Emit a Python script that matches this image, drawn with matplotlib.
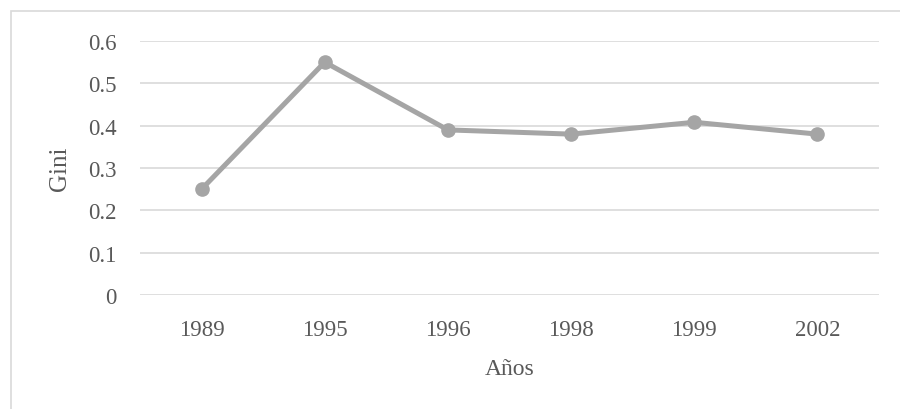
import matplotlib
matplotlib.use("Agg")
import matplotlib.pyplot as plt
from matplotlib.patches import Rectangle

years = ["1989", "1995", "1996", "1998", "1999", "2002"]
gini = [0.25, 0.55, 0.39, 0.38, 0.408, 0.38]
yticks = [0, 0.1, 0.2, 0.3, 0.4, 0.5, 0.6]
ytick_labels = ["0", "0.1", "0.2", "0.3", "0.4", "0.5", "0.6"]

plt.rcParams['font.family'] = ['Liberation Serif', 'DejaVu Serif']
TXT = "#595959"

fig = plt.figure(figsize=(9, 4.1), dpi=100)
ax = fig.add_axes([140/900, 1-296/410, (879-140)/900, (296-42)/410])

x = list(range(len(years)))
ax.plot(x, gini, color="#A5A5A5", linewidth=3.6, marker="o", markersize=9.5,
        solid_capstyle="round", zorder=3)

ax.set_xlim(-0.5, len(years)-0.5)
ax.set_ylim(0, 0.6)
ax.set_yticks(yticks)
ax.set_yticklabels(ytick_labels)
ax.set_xticks(x)
ax.set_xticklabels(years)
ax.grid(axis="y", color="#D9D9D9", linewidth=1.2, zorder=0)
for s in ax.spines.values():
    s.set_visible(False)
ax.tick_params(axis="both", length=0, labelsize=16.5, colors=TXT)
ax.tick_params(axis="y", pad=17)
ax.tick_params(axis="x", pad=17)
ax.set_ylabel("Gini", fontsize=18, color=TXT, labelpad=12)
ax.set_xlabel("Años", fontsize=17, color=TXT, labelpad=13)

fig.patches.append(Rectangle((11/900, -0.1), 1.0, 1 - 12/410 + 0.1,
                             transform=fig.transFigure, fill=False,
                             edgecolor="#D9D9D9", linewidth=1.2))

fig.savefig("out.png", dpi=100)
